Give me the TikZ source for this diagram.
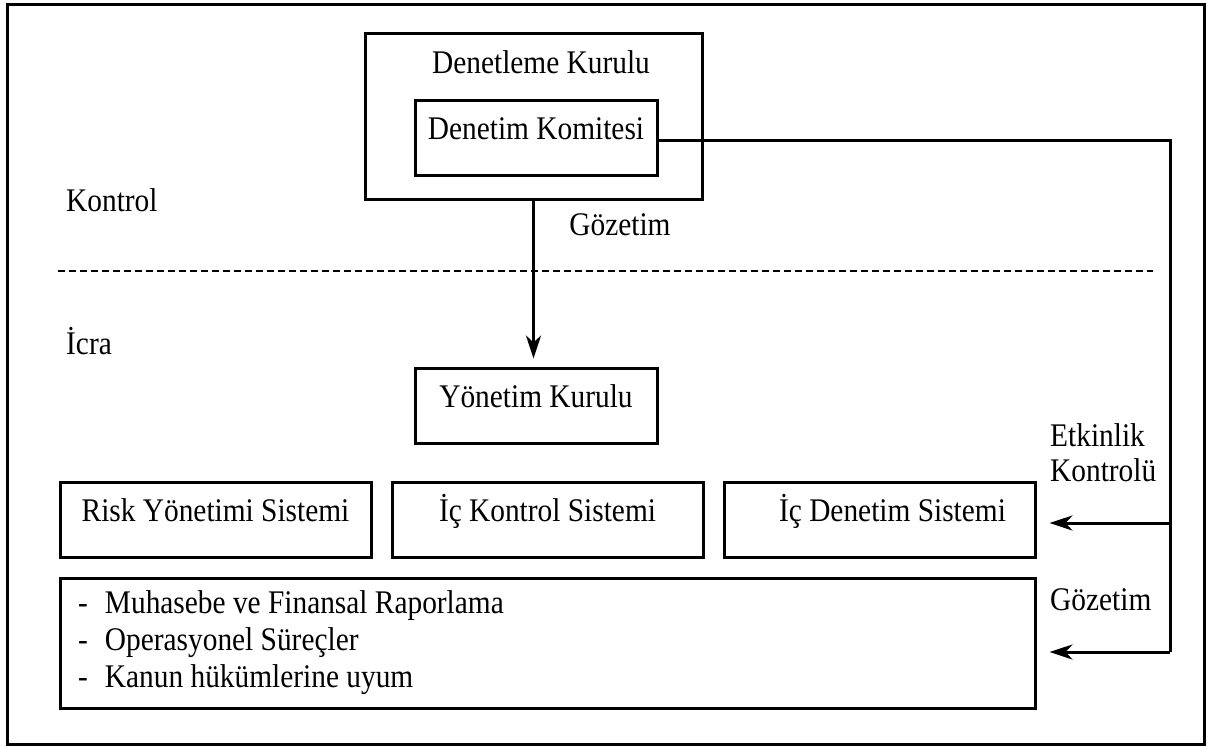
\documentclass[tikz,border=0pt]{standalone}
\usepackage{fontspec}
\setmainfont{Liberation Serif}[FakeStretch=0.89]
\usetikzlibrary{arrows.meta,calc}
\begin{document}
\begin{tikzpicture}[x=1pt,y=-1pt,
  every node/.style={font=\fontsize{33}{35}\selectfont, inner sep=0pt},
  box/.style={draw, line width=3pt, text height=0.7em, text depth=0.25em,
    minimum width=311pt, minimum height=75pt},
  conn/.style={line width=3pt},
  arr/.style={conn, -{Stealth[length=23pt,width=15pt,inset=7pt]}},
  lbl/.style={anchor=west}
]
\useasboundingbox (0,0) rectangle (1211,747);
\draw[line width=3pt] (7,4) rectangle (1204,744);

% Kontrol area
\node[box, minimum width=337pt, minimum height=166pt] (kurulu) at (533.5,116) {};
\node (kurulutxt) at (541,62) {Denetleme Kurulu};
\node[box, minimum width=242pt] (komite) at (536,137.5) {Denetim Komitesi};
\node[lbl] (kontrol) at (66,200) {Kontrol};
\node (gozetim1) at (620,225) {Gözetim};

% separator
\coordinate (dl) at (58,271);
\coordinate (dr) at (1153,271);
\draw[line width=2.5pt, dash pattern=on 7pt off 4pt] (dl) -- (dr);

% İcra area
\node[lbl] (icra) at (66,341) {İcra};
\node[box, minimum width=242pt] (yonetim) at (536,405.5) {Yönetim Kurulu};
\node[box] (risk) at (215.5,519.5) {Risk Yönetimi Sistemi};
\node[box] (ickontrol) at (547.5,519.5) {İç Kontrol Sistemi};
\node[box] (icdenetim) at (879.5,519.5) {\hspace*{26pt}İç Denetim Sistemi};
\node[draw, line width=3pt, minimum width=975pt, minimum height=130pt] (alt) at (547.5,643) {};
\node[anchor=west] (items) at (78,643) {\renewcommand\arraystretch{1.06}\begin{tabular}{@{}l@{\hspace{17pt}}l@{}}
-&Muhasebe ve Finansal Raporlama\\
-&Operasyonel Süreçler\\
-&Kanun hükümlerine uyum
\end{tabular}};

\node[anchor=west, align=left] (etkinlik) at (1050,453) {Etkinlik\\Kontrolü};
\node[lbl] (gozetim2) at (1050,600) {Gözetim};

% connectors
\draw[arr, shorten >=8pt] (kurulu.south) -- (kurulu.south |- yonetim.north);
\coordinate (rt) at ($(komite.east)+(0,3)$);
\coordinate (rm) at (1170,523);
\coordinate (rb) at (1170,652);
\draw[conn] (rt) -| (rb);
\draw[arr, shorten >=13pt] (rm) -- (rm -| icdenetim.east);
\draw[arr, shorten >=13pt] (rb) -- (rb -| alt.east);
\end{tikzpicture}
\end{document}
